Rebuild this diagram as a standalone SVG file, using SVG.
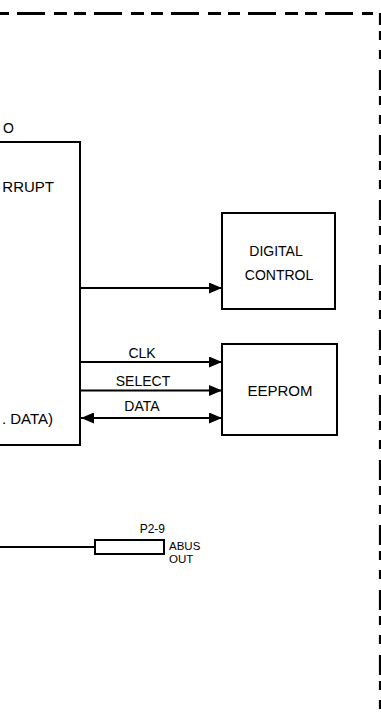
<svg xmlns="http://www.w3.org/2000/svg" width="381" height="719" viewBox="0 0 381 719">
<style>
text{font-family:"Liberation Sans",Arial,sans-serif;fill:#000}
.t{font-size:14px}
.s{font-size:11.5px}
.ln{stroke:#000;stroke-width:2;fill:none}
.box{stroke:#000;stroke-width:2;fill:#fff}
</style>
<defs>
<marker id="ah" markerWidth="13" markerHeight="11" refX="13" refY="5.5" orient="auto-start-reverse" markerUnits="userSpaceOnUse">
<path d="M0,0 L13,5.5 L0,11 Z" fill="#000"/>
</marker>
</defs>
<g id="border">
<line x1="-60" y1="13.5" x2="373" y2="13.5" stroke="#000" stroke-width="3" stroke-dasharray="28 9 13 7 12 8"/>
<line x1="380" y1="13" x2="380" y2="719" stroke="#000" stroke-width="2.2" stroke-dasharray="20 6 9 10 9 11" stroke-dashoffset="8"/>
</g>
<g id="main-block">
<path class="ln" d="M0,142 H80 V445 H0"/>
<text class="t" x="3" y="133">O</text>
<text x="54" y="192" text-anchor="end" font-size="15">RRUPT</text>
<text x="53" y="424" text-anchor="end" font-size="15">. DATA)</text>
</g>
<g id="digital-control">
<rect class="box" x="222" y="213" width="113" height="96"/>
<text class="t" x="276" y="256" text-anchor="middle">DIGITAL</text>
<text class="t" x="279" y="280" text-anchor="middle">CONTROL</text>
</g>
<g id="eeprom">
<rect class="box" x="222" y="344" width="115" height="91"/>
<text x="280" y="396" text-anchor="middle" font-size="15">EEPROM</text>
</g>
<g id="connector-p2-9">
<rect class="box" x="95" y="540" width="69" height="14"/>
<text x="165" y="533" text-anchor="end" font-size="12">P2-9</text>
<text class="s" x="169" y="550">ABUS</text>
<text class="s" x="169" y="563">OUT</text>
</g>
<g id="connectors">
<line class="ln" x1="80" y1="288" x2="222" y2="288" marker-end="url(#ah)"/>
<line class="ln" x1="80" y1="362" x2="222" y2="362" marker-end="url(#ah)"/>
<line class="ln" x1="80" y1="390.5" x2="222" y2="390.5" marker-end="url(#ah)"/>
<line class="ln" x1="81" y1="418" x2="222" y2="418" marker-start="url(#ah)" marker-end="url(#ah)"/>
<line class="ln" x1="0" y1="547" x2="95" y2="547" stroke-width="1.5"/>
<text class="t" x="142" y="358" text-anchor="middle">CLK</text>
<text class="t" x="143" y="386" text-anchor="middle">SELECT</text>
<text class="t" x="142" y="411" text-anchor="middle">DATA</text>
</g>
</svg>
